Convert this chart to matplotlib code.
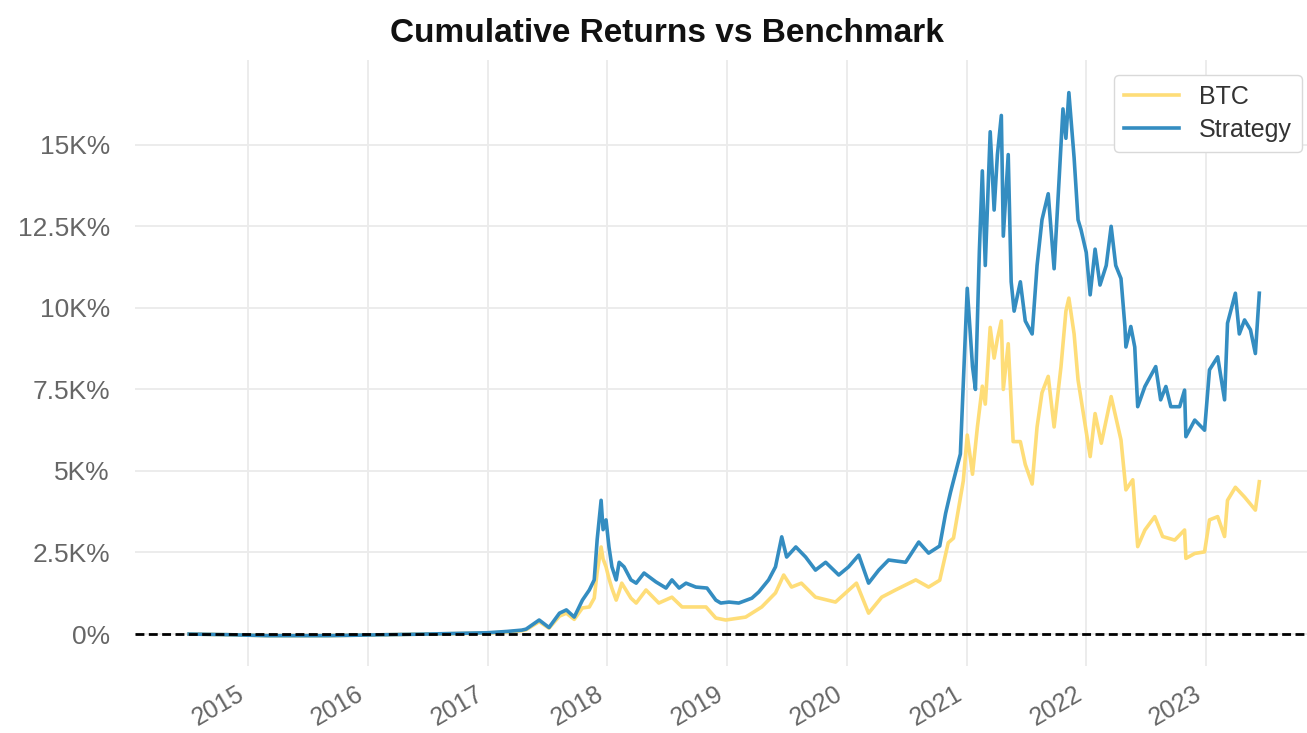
import matplotlib
matplotlib.use("Agg")
import matplotlib.pyplot as plt
import matplotlib.ticker as mticker
import pandas as pd

plt.rcParams['font.family'] = ['Liberation Sans', 'DejaVu Sans']

# ---------------- data (cumulative returns, in %) ----------------
strategy_dates = [
    "2014-07-05", "2014-11-01", "2015-03-01", "2015-09-01", "2016-01-01", "2016-07-01",
    "2017-01-01", "2017-03-01", "2017-04-15", "2017-04-28", "2017-06-07", "2017-07-07",
    "2017-08-08", "2017-08-29", "2017-09-22", "2017-10-17", "2017-11-07", "2017-11-22",
    "2017-12-01", "2017-12-13", "2017-12-19", "2017-12-28", "2018-01-06", "2018-01-15",
    "2018-01-28", "2018-02-06", "2018-02-21", "2018-03-14", "2018-03-30", "2018-04-23",
    "2018-05-29", "2018-06-29", "2018-07-17", "2018-08-08", "2018-08-29", "2018-09-28",
    "2018-11-01", "2018-11-28", "2018-12-13", "2019-01-07", "2019-02-06", "2019-03-18",
    "2019-04-08", "2019-05-08", "2019-05-29", "2019-06-17", "2019-07-02", "2019-07-30",
    "2019-08-29", "2019-09-28", "2019-10-29", "2019-12-08", "2020-01-07", "2020-02-07",
    "2020-03-08", "2020-04-08", "2020-05-08", "2020-06-29", "2020-08-08", "2020-09-07",
    "2020-10-11", "2020-10-29", "2020-11-13", "2020-12-13", "2021-01-03", "2021-01-19",
    "2021-01-28", "2021-02-09", "2021-02-18", "2021-02-27", "2021-03-14", "2021-03-26",
    "2021-04-05", "2021-04-17", "2021-04-23", "2021-05-08", "2021-05-17", "2021-05-26",
    "2021-06-14", "2021-06-29", "2021-07-20", "2021-08-04", "2021-08-19", "2021-09-07",
    "2021-09-25", "2021-10-10", "2021-10-22", "2021-10-31", "2021-11-09", "2021-11-25",
    "2021-12-07", "2021-12-16", "2022-01-01", "2022-01-13", "2022-01-28", "2022-02-12",
    "2022-03-03", "2022-03-18", "2022-04-01", "2022-04-17", "2022-04-29", "2022-05-02",
    "2022-05-17", "2022-05-29", "2022-06-07", "2022-06-29", "2022-08-01", "2022-08-16",
    "2022-09-01", "2022-09-16", "2022-10-13", "2022-10-28", "2022-11-01", "2022-11-28",
    "2022-12-28", "2023-01-12", "2023-02-06", "2023-02-27", "2023-03-08", "2023-04-01",
    "2023-04-13", "2023-04-29", "2023-05-17", "2023-06-01", "2023-06-13",
]
strategy_values = [
    0, -20, -50, -50, -30, 0,
    40, 80, 120, 150, 430, 200,
    640, 740, 520, 1040, 1350, 1660,
    2900, 4100, 3200, 3500, 2670, 2060,
    1660, 2200, 2060, 1660, 1560, 1870,
    1600, 1410, 1660, 1410, 1560, 1440,
    1410, 1040, 950, 980, 950, 1100,
    1290, 1660, 2060, 2980, 2360, 2670,
    2360, 1960, 2200, 1810, 2060, 2420,
    1560, 1960, 2270, 2200, 2820, 2480,
    2700, 3700, 4350, 5520, 10600, 8200,
    7500, 11750, 14200, 11300, 15400, 13000,
    14700, 15900, 12200, 14700, 10800, 9900,
    10800, 9600, 9200, 11300, 12700, 13500,
    11200, 13900, 16100, 15200, 16600, 14600,
    12700, 12400, 11700, 10400, 11800, 10700,
    11300, 12500, 11300, 10900, 9430, 8800,
    9430, 8800, 6970, 7590, 8200, 7180,
    7590, 6970, 6970, 7480, 6050, 6560,
    6250, 8100, 8500, 7180, 9530, 10450,
    9200, 9630, 9330, 8600, 10450,
]

btc_dates = [
    "2014-07-05", "2014-11-01", "2015-03-01", "2015-09-01", "2016-01-01", "2016-07-01",
    "2017-01-01", "2017-03-01", "2017-04-15", "2017-04-28", "2017-06-07", "2017-07-07",
    "2017-08-08", "2017-08-29", "2017-09-22", "2017-10-17", "2017-11-07", "2017-11-22",
    "2017-12-01", "2017-12-13", "2017-12-19", "2017-12-28", "2018-01-06", "2018-01-15",
    "2018-01-28", "2018-02-06", "2018-02-14", "2018-03-14", "2018-03-30", "2018-04-29",
    "2018-06-07", "2018-07-17", "2018-08-17", "2018-10-29", "2018-11-28", "2018-12-28",
    "2019-02-27", "2019-04-17", "2019-05-29", "2019-06-23", "2019-07-17", "2019-08-16",
    "2019-09-28", "2019-11-28", "2020-01-31", "2020-03-08", "2020-04-17", "2020-05-29",
    "2020-07-30", "2020-09-07", "2020-10-11", "2020-11-06", "2020-11-22", "2020-12-22",
    "2021-01-03", "2021-01-19", "2021-02-03", "2021-02-18", "2021-02-27", "2021-03-14",
    "2021-03-26", "2021-04-05", "2021-04-17", "2021-04-23", "2021-05-08", "2021-05-23",
    "2021-06-14", "2021-06-29", "2021-07-20", "2021-08-04", "2021-08-19", "2021-09-07",
    "2021-09-25", "2021-10-16", "2021-10-31", "2021-11-09", "2021-11-25", "2021-12-07",
    "2022-01-13", "2022-01-28", "2022-02-16", "2022-03-18", "2022-04-17", "2022-05-02",
    "2022-05-23", "2022-06-07", "2022-06-29", "2022-07-29", "2022-08-22", "2022-09-28",
    "2022-10-28", "2022-11-01", "2022-11-28", "2022-12-28", "2023-01-12", "2023-02-06",
    "2023-02-27", "2023-03-08", "2023-04-01", "2023-04-29", "2023-06-01", "2023-06-13",
]
btc_values = [
    0, -20, -50, -50, -30, 0,
    30, 60, 100, 130, 380, 180,
    550, 640, 450, 800, 830, 1100,
    1900, 2670, 2300, 2060, 1700, 1400,
    1040, 1300, 1560, 1100, 950, 1350,
    950, 1130, 830, 830, 490, 430,
    520, 830, 1260, 1810, 1440, 1560,
    1130, 980, 1560, 640, 1130, 1350,
    1660, 1440, 1650, 2800, 2940, 4700,
    6100, 4900, 6350, 7600, 7050, 9400,
    8460, 9050, 9600, 7500, 8900, 5900,
    5900, 5200, 4600, 6350, 7400, 7900,
    6350, 8200, 9900, 10300, 9200, 7790,
    5440, 6760, 5850, 7280, 5950, 4420,
    4730, 2680, 3190, 3600, 2990, 2880,
    3190, 2320, 2470, 2520, 3500, 3600,
    2990, 4100, 4500, 4200, 3800, 4670,
]

y_ticks = [0, 2500, 5000, 7500, 10000, 12500, 15000]
x_tick_years = [2015, 2016, 2017, 2018, 2019, 2020, 2021, 2022, 2023]

# ---------------- figure ----------------
W, H = 1307, 733
fig = plt.figure(figsize=(W / 100, H / 100), dpi=100)
fig.patch.set_facecolor("white")
ax = fig.add_axes([135 / W, (H - 666) / H, (1317 - 135) / W, (666 - 60) / H])
ax.set_facecolor("white")

sd = pd.to_datetime(strategy_dates)
bd = pd.to_datetime(btc_dates)

ax.plot(bd, btc_values, color="#fedd78", lw=2.6, label="BTC", zorder=3)
ax.plot(sd, strategy_values, color="#348dc1", lw=2.6, label="Strategy", zorder=4)
ax.axhline(0, color="#000000", lw=2.0, ls=(0, (3.2, 1.6)), zorder=5)

ax.set_xlim(pd.Timestamp("2014-01-21"), pd.Timestamp("2023-12-06"))
ax.set_ylim(-980, 17600)

ax.set_yticks(y_ticks)


def kfmt(v, pos=None):
    if v == 0:
        return "0%"
    s = f"{v / 1000:.1f}".rstrip("0").rstrip(".")
    return s + "K%"


ax.yaxis.set_major_formatter(mticker.FuncFormatter(kfmt))
ax.set_xticks([pd.Timestamp(f"{y}-01-01") for y in x_tick_years])
ax.set_xticklabels([str(y) for y in x_tick_years], rotation=30, ha="right")

ax.tick_params(axis="y", length=0, pad=18, labelsize=19, labelcolor="#666666")
ax.tick_params(axis="x", length=0, pad=11, labelsize=18, labelcolor="#666666")

ax.grid(True, color="#ebebeb", lw=1.3, zorder=0)
ax.set_axisbelow(True)
for s in ax.spines.values():
    s.set_visible(False)

leg = ax.legend(loc="upper right", fontsize=18, frameon=True, fancybox=True,
                framealpha=1.0, edgecolor="#d9d9d9", borderaxespad=0.6,
                handlelength=2.2, labelspacing=0.35)
for t in leg.get_texts():
    t.set_color("#333333")

fig.text(667 / W, 1 - 34 / H, "Cumulative Returns vs Benchmark", ha="center", va="center",
         fontsize=24, fontweight="bold", color="#111111")

fig.savefig("out.png", dpi=100, facecolor="white")
